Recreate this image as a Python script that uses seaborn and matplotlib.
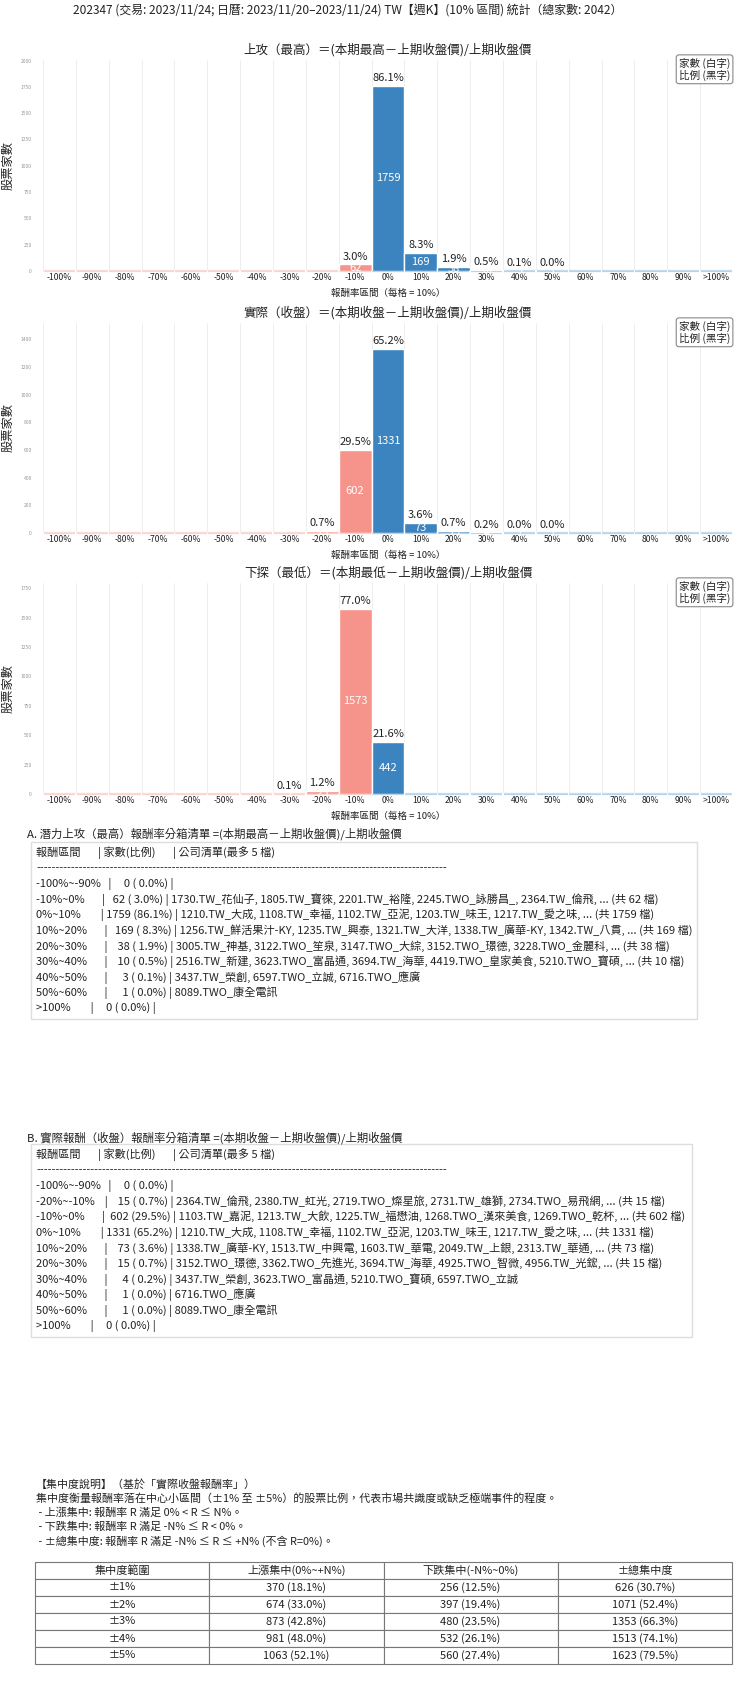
import numpy as np
import pandas as pd
import matplotlib
matplotlib.use("Agg")
import matplotlib.pyplot as plt
import seaborn as sns
from matplotlib.patches import Rectangle
from matplotlib.ticker import MultipleLocator

sns.set_theme(style="white")
plt.rcParams['font.family'] = ['Noto Sans CJK TC', 'DejaVu Sans']

# ---------------- data ----------------
TOTAL = 2042
bins = ['-100%', '-90%', '-80%', '-70%', '-60%', '-50%', '-40%', '-30%', '-20%', '-10%',
        '0%', '10%', '20%', '30%', '40%', '50%', '60%', '70%', '80%', '90%', '>100%']
high_counts = [0, 0, 0, 0, 0, 0, 0, 0, 0, 62, 1759, 169, 38, 10, 3, 1, 0, 0, 0, 0, 0]
close_counts = [0, 0, 0, 0, 0, 0, 0, 0, 15, 602, 1331, 73, 15, 4, 1, 1, 0, 0, 0, 0, 0]
low_counts = [0, 0, 0, 0, 0, 0, 0, 2, 25, 1573, 442, 0, 0, 0, 0, 0, 0, 0, 0, 0, 0]

suptitle = "202347 (交易: 2023/11/24; 日曆: 2023/11/20–2023/11/24) TW【週K】(10% 區間) 統計（總家數: 2042）"
chart_titles = ["上攻（最高）＝(本期最高－上期收盤價)/上期收盤價",
                "實際（收盤）＝(本期收盤－上期收盤價)/上期收盤價",
                "下探（最低）＝(本期最低－上期收盤價)/上期收盤價"]
xlabel = "報酬率區間（每格 = 10%）"
ylabel = "股票家數"
legend_text = "家數 (白字)\n比例 (黑字)"

box_a_title = "A. 潛力上攻（最高）報酬率分箱清單 =(本期最高－上期收盤價)/上期收盤價"
box_a_lines = [
    "報酬區間       | 家數(比例)       | 公司清單(最多 5 檔)",
    "-" * 106,
    "-100%~-90%   |     0 ( 0.0%) |",
    "-10%~0%       |   62 ( 3.0%) | 1730.TW_花仙子, 1805.TW_寶徠, 2201.TW_裕隆, 2245.TWO_詠勝昌_, 2364.TW_倫飛, ... (共 62 檔)",
    "0%~10%        | 1759 (86.1%) | 1210.TW_大成, 1108.TW_幸福, 1102.TW_亞泥, 1203.TW_味王, 1217.TW_愛之味, ... (共 1759 檔)",
    "10%~20%       |   169 ( 8.3%) | 1256.TW_鮮活果汁-KY, 1235.TW_興泰, 1321.TW_大洋, 1338.TW_廣華-KY, 1342.TW_八貫, ... (共 169 檔)",
    "20%~30%       |    38 ( 1.9%) | 3005.TW_神基, 3122.TWO_笙泉, 3147.TWO_大綜, 3152.TWO_璟德, 3228.TWO_金麗科, ... (共 38 檔)",
    "30%~40%       |    10 ( 0.5%) | 2516.TW_新建, 3623.TWO_富晶通, 3694.TW_海華, 4419.TWO_皇家美食, 5210.TWO_寶碩, ... (共 10 檔)",
    "40%~50%       |      3 ( 0.1%) | 3437.TW_榮創, 6597.TWO_立誠, 6716.TWO_應廣",
    "50%~60%       |      1 ( 0.0%) | 8089.TWO_康全電訊",
    ">100%        |     0 ( 0.0%) |",
]
box_b_title = "B. 實際報酬（收盤）報酬率分箱清單 =(本期收盤－上期收盤價)/上期收盤價"
box_b_lines = [
    "報酬區間       | 家數(比例)       | 公司清單(最多 5 檔)",
    "-" * 106,
    "-100%~-90%   |     0 ( 0.0%) |",
    "-20%~-10%    |    15 ( 0.7%) | 2364.TW_倫飛, 2380.TW_虹光, 2719.TWO_燦星旅, 2731.TW_雄獅, 2734.TWO_易飛網, ... (共 15 檔)",
    "-10%~0%       |  602 (29.5%) | 1103.TW_嘉泥, 1213.TW_大飲, 1225.TW_福懋油, 1268.TWO_漢來美食, 1269.TWO_乾杯, ... (共 602 檔)",
    "0%~10%        | 1331 (65.2%) | 1210.TW_大成, 1108.TW_幸福, 1102.TW_亞泥, 1203.TW_味王, 1217.TW_愛之味, ... (共 1331 檔)",
    "10%~20%       |    73 ( 3.6%) | 1338.TW_廣華-KY, 1513.TW_中興電, 1603.TW_華電, 2049.TW_上銀, 2313.TW_華通, ... (共 73 檔)",
    "20%~30%       |    15 ( 0.7%) | 3152.TWO_璟德, 3362.TWO_先進光, 3694.TW_海華, 4925.TWO_智微, 4956.TW_光鋐, ... (共 15 檔)",
    "30%~40%       |      4 ( 0.2%) | 3437.TW_榮創, 3623.TWO_富晶通, 5210.TWO_寶碩, 6597.TWO_立誠",
    "40%~50%       |      1 ( 0.0%) | 6716.TWO_應廣",
    "50%~60%       |      1 ( 0.0%) | 8089.TWO_康全電訊",
    ">100%        |     0 ( 0.0%) |",
]
conc_lines = [
    "【集中度說明】（基於「實際收盤報酬率」）",
    "集中度衡量報酬率落在中心小區間（±1% 至 ±5%）的股票比例，代表市場共識度或缺乏極端事件的程度。",
    " - 上漲集中: 報酬率 R 滿足 0% < R ≤ N%。",
    " - 下跌集中: 報酬率 R 滿足 -N% ≤ R < 0%。",
    " - ±總集中度: 報酬率 R 滿足 -N% ≤ R ≤ +N% (不含 R=0%)。",
]
table_cols = ["集中度範圍", "上漲集中(0%~+N%)", "下跌集中(-N%~0%)", "±總集中度"]
conc_ranges = ["±1%", "±2%", "±3%", "±4%", "±5%"]
up_cnt = [370, 674, 873, 981, 1063]
up_pct = [18.1, 33.0, 42.8, 48.0, 52.1]
down_cnt = [256, 397, 480, 532, 560]
down_pct = [12.5, 19.4, 23.5, 26.1, 27.4]
tot_cnt = [626, 1071, 1353, 1513, 1623]
tot_pct = [30.7, 52.4, 66.3, 74.1, 79.5]

# ---------------- styles ----------------
W, H = 740, 1691
BLUE = "#3b84bf"
RED = "#f6938a"
LIGHT_BLUE = "#b5d4ec"
LIGHT_RED = "#fbd3ce"
TXT = "#222222"

fig = plt.figure(figsize=(W / 100, H / 100), dpi=100)
fig.patch.set_facecolor("white")


def fx(px):
    return px / W


def fy(px):
    return 1 - px / H


fig.text(fx(348), fy(10), suptitle, ha="center", va="center", fontsize=8.6, color=TXT)

ax_specs = [(60, 271, high_counts, 250), (323, 533, close_counts, 200), (583, 794, low_counts, 250)]
palette = {b: (RED if b.startswith('-') else BLUE) for b in bins}
light = [LIGHT_RED if b.startswith('-') else LIGHT_BLUE for b in bins]

for i, (top, bot, counts, step) in enumerate(ax_specs):
    ax = fig.add_axes([fx(43), fy(bot), fx(733) - fx(43), (bot - top) / H])
    df = pd.DataFrame({"bin": bins, "count": counts})
    sns.barplot(data=df, x="bin", y="count", hue="bin", order=bins, hue_order=bins,
                palette=palette, legend=False, width=1.0, saturation=1,
                edgecolor="white", linewidth=1.0, errorbar=None, ax=ax, zorder=2)
    pos = np.arange(len(bins))
    ax.hlines([0] * len(bins), pos - 0.48, pos + 0.48, colors=light, linewidth=1.6,
              zorder=1, clip_on=False)
    ymax = max(counts) * 1.14
    ax.set_xlim(-0.5, len(bins) - 0.5)
    ax.set_ylim(0, ymax)
    ax.yaxis.set_major_locator(MultipleLocator(step))
    ax.tick_params(axis="y", labelsize=3.6, colors="#999999", length=0, pad=8)
    ax.tick_params(axis="x", labelsize=6.2, colors=TXT, length=0, pad=1.5)
    ax.set_xticks(pos)
    ax.set_xticklabels(bins)
    ax.set_xticks(np.arange(-0.5, len(bins)), minor=True)
    ax.grid(False)
    ax.grid(True, which="minor", axis="x", color="#eeeeee", linewidth=0.7, zorder=0)
    for s in ax.spines.values():
        s.set_visible(False)
    ax.set_xlabel("")
    ax.set_ylabel(ylabel, fontsize=8.8, color=TXT)
    ax.yaxis.set_label_coords(-29.0 / 690, 0.5)
    h = bot - top
    ax.text(0.5, 1 + 10.5 / h, chart_titles[i], transform=ax.transAxes, ha="center",
            va="center", fontsize=9, color=TXT)
    ax.text(0.5, -22 / h, xlabel, transform=ax.transAxes, ha="center", va="center",
            fontsize=6.8, color=TXT)
    ax.text(0.996, 1 + 2.5 / h, legend_text, transform=ax.transAxes, ha="right", va="top",
            fontsize=7.6, color=TXT, linespacing=1.15,
            bbox=dict(boxstyle="round,pad=0.25", fc="white", ec="#888888", lw=0.8), zorder=5)
    for j, c in enumerate(counts):
        if c > 0:
            ax.annotate(f"{c / TOTAL * 100:.1f}%", (j, c), xytext=(0, 2), textcoords="offset points",
                        ha="center", va="bottom", fontsize=8, color=TXT, zorder=4)
            ax.text(j, c / 2, f"{c}", ha="center", va="center", fontsize=8, color="white", zorder=4)


def text_box(title, title_y, lines, box, first_y, step=15.55):
    fig.text(fx(27), fy(title_y), title, ha="left", va="center", fontsize=8.2, color=TXT)
    x0, y0, x1, y1 = box
    fig.patches.append(Rectangle((fx(x0), fy(y1)), fx(x1) - fx(x0), (y1 - y0) / H,
                                 transform=fig.transFigure, fill=False, ec="#dddddd", lw=1.0))
    for k, line in enumerate(lines):
        fig.text(fx(36), fy(first_y + k * step), line, ha="left", va="center",
                 fontsize=8.0, color=TXT)


text_box(box_a_title, 834, box_a_lines, (31, 842, 697, 1019), 853)
text_box(box_b_title, 1138, box_b_lines, (31, 1144, 692, 1337), 1155)

conc_y = [1484, 1499, 1513, 1527, 1541]
for y, line in zip(conc_y, conc_lines):
    fig.text(fx(36), fy(y), line, ha="left", va="center", fontsize=7.9, color=TXT)

ax_t = fig.add_axes([fx(35), fy(1664), fx(732) - fx(35), (1664 - 1562) / H])
ax_t.axis("off")
cell_text = []
for r, a, ap, b, bp, t, tp in zip(conc_ranges, up_cnt, up_pct, down_cnt, down_pct, tot_cnt, tot_pct):
    cell_text.append([r, f"{a} ({ap:.1f}%)", f"{b} ({bp:.1f}%)", f"{t} ({tp:.1f}%)"])
tbl = ax_t.table(cellText=cell_text, colLabels=table_cols, cellLoc="center", bbox=[0, 0, 1, 1])
tbl.auto_set_font_size(False)
for (r, c), cell in tbl.get_celld().items():
    cell.set_edgecolor("#777777")
    cell.set_linewidth(0.8)
    cell.get_text().set_fontsize(8)
    cell.get_text().set_color(TXT)

fig.savefig("out.png", dpi=100, facecolor="white")
